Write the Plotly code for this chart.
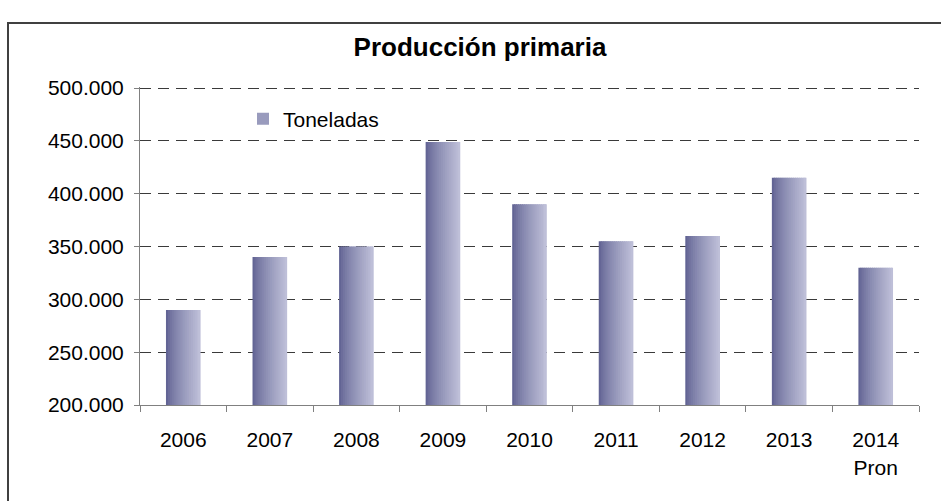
import plotly.graph_objects as go

years = ["2006", "2007", "2008", "2009", "2010", "2011", "2012", "2013", "2014"]
toneladas = [290000, 340000, 350000, 449000, 390000, 355000, 360000, 415000, 330000]
tick_labels = ["2006", "2007", "2008", "2009", "2010", "2011", "2012", "2013", "2014<br>Pron"]
series_name = "Toneladas"
title_text = "<b>Producción primaria</b>"

FONT = "Liberation Sans, Arial, sans-serif"
W, H = 941, 501
L, R, T, B = 140, 22, 87, 96
pw, ph = W - L - R, H - T - B

dark = (0x62, 0x64, 0x94)
light = (0xbe, 0xbf, 0xd8)
N = 18
bar_w = 0.40
sw = bar_w / N

fig = go.Figure()
for i in range(N):
    t = i / (N - 1)
    c = tuple(round(dark[k] + (light[k] - dark[k]) * t ** 0.8) for k in range(3))
    col = "rgb(%d,%d,%d)" % c
    width = sw * 1.6 if i < N - 1 else sw
    fig.add_trace(go.Bar(
        x=years, y=toneladas,
        width=[width] * len(years),
        offset=[-bar_w / 2 + i * sw] * len(years),
        marker=dict(color=col, line=dict(width=0)),
        name=series_name,
        showlegend=(i == N // 2),
        hoverinfo="skip" if i != N // 2 else None,
    ))

def px_x(p):
    return (p - L) / pw

def px_y(p):
    return (H - B - p) / ph

fig.update_layout(
    width=W, height=H,
    margin=dict(l=L, r=R, t=T, b=B, pad=0),
    paper_bgcolor="white", plot_bgcolor="white",
    barmode="overlay",
    separators=",.",
    font=dict(family=FONT, size=21, color="black"),
    title=dict(text=title_text, x=480 / W, xref="container", xanchor="center",
               y=1 - 47 / H, yref="container", yanchor="middle",
               font=dict(family=FONT, size=26, color="black")),
    legend=dict(x=px_x(243), y=px_y(119), xanchor="left", yanchor="middle",
                bgcolor="rgba(0,0,0,0)", font=dict(family=FONT, size=21, color="black"),
                itemwidth=30),
    xaxis=dict(
        type="category", categoryorder="array", categoryarray=years,
        tickvals=years, ticktext=tick_labels,
        range=[-0.5, len(years) - 0.5],
        showline=True, linecolor="#808080", linewidth=1,
        ticks="outside", tickson="boundaries", ticklen=6, tickcolor="#808080",
        showgrid=False, ticklabelstandoff=16,
        tickfont=dict(family=FONT, size=21, color="black"),
    ),
    yaxis=dict(
        range=[200000, 501000], dtick=50000, tick0=200000, tickformat=",d",
        showline=True, linecolor="#808080", linewidth=1,
        ticks="outside", ticklen=5, tickcolor="#808080",
        showgrid=True, gridcolor="#3a3a3a", gridwidth=1.2, griddash="11px,7px",
        zeroline=False, ticklabelstandoff=6,
        tickfont=dict(family=FONT, size=21, color="black"),
    ),
    shapes=[dict(type="rect", xref="paper", yref="paper",
                 x0=px_x(8), x1=px_x(950), y0=px_y(510), y1=px_y(23),
                 line=dict(color="#404040", width=2), fillcolor="rgba(0,0,0,0)",
                 layer="above")],
)

fig.write_html("out.html", config={"displayModeBar": False},
               post_script="document.body.style.margin='0';")
